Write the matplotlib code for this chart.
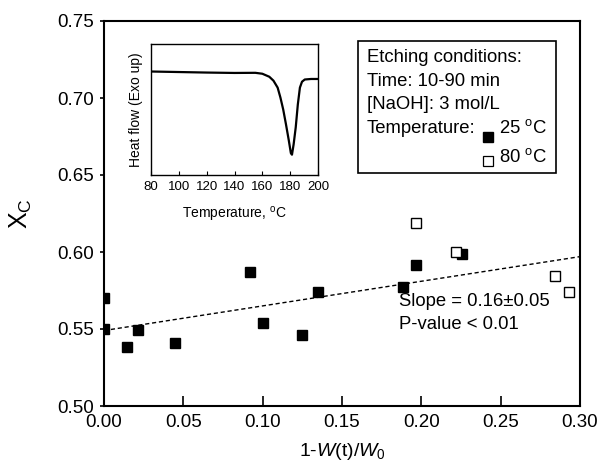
import numpy as np
import matplotlib
matplotlib.use("Agg")
import matplotlib.pyplot as plt
from matplotlib.patches import Rectangle

plt.rcParams['font.family'] = ['Liberation Sans', 'DejaVu Sans']
plt.rcParams['mathtext.fontset'] = 'custom'
plt.rcParams['mathtext.rm'] = 'Liberation Sans'
plt.rcParams['mathtext.it'] = 'Liberation Sans:italic'

# 25 °C data (filled squares)
x25 = [0.000, 0.000, 0.0147, 0.0212, 0.0447, 0.0922, 0.1002, 0.125, 0.1346, 0.1886, 0.1968, 0.2254]
y25 = [0.570, 0.550, 0.5385, 0.5494, 0.541, 0.5872, 0.554, 0.546, 0.574, 0.5775, 0.5914, 0.5987]
# 80 °C data (open squares)
x80 = [0.1964, 0.2218, 0.284, 0.2932]
y80 = [0.6186, 0.5998, 0.5844, 0.574]
# regression line
fit_slope = 0.16
fit_intercept = 0.549

# inset DSC curve
dsc_T = [80, 100, 120, 140, 155, 160, 165, 168, 171, 173, 175, 177, 179, 180.5, 181.3,
         182.5, 184, 185.5, 187, 188.5, 190.5, 195, 200]
dsc_hf = [0.790, 0.786, 0.782, 0.779, 0.780, 0.773, 0.750, 0.720, 0.667, 0.591, 0.500, 0.386,
          0.265, 0.167, 0.155, 0.235, 0.364, 0.538, 0.667, 0.712, 0.729, 0.733, 0.733]

xticks = [0.00, 0.05, 0.10, 0.15, 0.20, 0.25, 0.30]
yticks = [0.50, 0.55, 0.60, 0.65, 0.70, 0.75]
inset_ticks = [80, 100, 120, 140, 160, 180, 200]

fig = plt.figure(figsize=(6, 4.69), dpi=100)
ax = fig.add_axes([104/600, 1-406/469, 476/600, 385/469])

ax.plot(x25, y25, 's', color='black', markersize=7, clip_on=True, zorder=3)
ax.plot(x80, y80, 's', markerfacecolor='white', markeredgecolor='black', markersize=6.5,
        markeredgewidth=1.0, zorder=3)
xl = np.array([0.0, 0.30])
ax.plot(xl, fit_intercept + fit_slope*xl, color='black', lw=1.0, linestyle=(0, (3, 2)), zorder=2)

ax.set_xlim(0, 0.30)
ax.set_ylim(0.50, 0.75)
ax.set_xticks(xticks)
ax.set_xticklabels([f"{v:.2f}" for v in xticks])
ax.set_yticks(yticks)
ax.set_yticklabels([f"{v:.2f}" for v in yticks])
ax.tick_params(axis='x', direction='in', length=7, width=1.2, labelsize=13.5, pad=6)
ax.tick_params(axis='y', direction='out', length=3, width=1.2, labelsize=13.5, pad=4)
for s in ax.spines.values():
    s.set_linewidth(1.5)
ax.set_xlabel(r'1-$\mathit{W}$(t)/$\mathit{W}_{0}$', fontsize=14, labelpad=7)
ax.set_ylabel(r'X$_\mathrm{C}$', fontsize=18, labelpad=17)

# legend-like box
ax.add_patch(Rectangle((0.533, 0.606), 0.9489-0.533, 0.948-0.606, transform=ax.transAxes,
                       fill=False, edgecolor='black', lw=1.2, zorder=4))
fs = 13.3
tx = 0.5525
ax.text(tx, 0.904, 'Etching conditions:', transform=ax.transAxes, fontsize=fs, va='center')
ax.text(tx, 0.844, 'Time: 10-90 min', transform=ax.transAxes, fontsize=fs, va='center')
ax.text(tx, 0.784, '[NaOH]: 3 mol/L', transform=ax.transAxes, fontsize=fs, va='center')
ax.text(tx, 0.722, 'Temperature:', transform=ax.transAxes, fontsize=fs, va='center')
ax.plot([0.8067], [0.6987], 's', color='black', markersize=6.5, transform=ax.transAxes, clip_on=False)
ax.plot([0.8067], [0.637], 's', markerfacecolor='white', markeredgecolor='black', markersize=6.5,
        markeredgewidth=0.9, transform=ax.transAxes, clip_on=False)
ax.text(0.8298, 0.722, '25 $^\\mathrm{o}$C', transform=ax.transAxes, fontsize=fs, va='center')
ax.text(0.8298, 0.647, '80 $^\\mathrm{o}$C', transform=ax.transAxes, fontsize=fs, va='center')

ax.text(0.6204, 0.271, 'Slope = 0.16\u00b10.05', transform=ax.transAxes, fontsize=fs, va='center')
ax.text(0.6204, 0.2104, 'P-value < 0.01', transform=ax.transAxes, fontsize=fs, va='center')

# inset
axi = fig.add_axes([151/600, 1-175/469, 167/600, 131/469])
axi.plot(dsc_T, dsc_hf, color='black', lw=1.6)
axi.set_xlim(80, 200)
axi.set_ylim(0, 1)
axi.set_xticks(inset_ticks)
axi.set_yticks([])
axi.tick_params(axis='x', direction='in', length=3, width=0.8, labelsize=9.5, pad=4)
for s in axi.spines.values():
    s.set_linewidth(1.0)
axi.set_xlabel('Temperature, $^\\mathrm{o}$C', fontsize=10, labelpad=9)
axi.set_ylabel('Heat flow (Exo up)', fontsize=10, labelpad=6)

fig.savefig('out.png', dpi=100)
